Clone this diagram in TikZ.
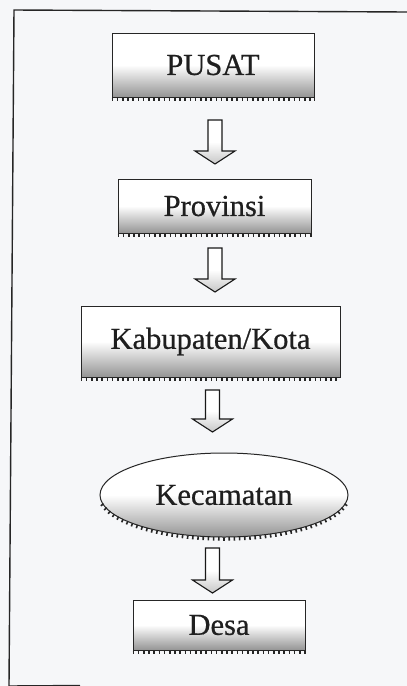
\documentclass[tikz,border=0pt]{standalone}
\usepackage{fontspec}
\setmainfont{Liberation Serif}[FakeBold=0.6]
\usetikzlibrary{calc,shapes.geometric}
\begin{document}
\begin{tikzpicture}[x=1pt,y=-1pt,
  lbl/.style={font=\fontsize{30.5}{36}\selectfont, text=black!88, inner sep=0pt},
  box/.style={lbl, draw=black!85, line width=1pt, rectangle,
    top color=white, bottom color=black!42, middle color=white},
  oval/.style={lbl, draw=black!85, line width=1pt, ellipse,
    top color=white, bottom color=black!42, middle color=white},
  ticks/.style={draw=black!85, line width=3.5pt, dash pattern=on 1.6pt off 3.6pt},
  blockarrow/.style={draw=black!90, line width=1.1pt,
    top color=white, bottom color=black!22, middle color=white,
    to path={let \p1=(\tikztostart),\p2=(\tikztotarget) in
      (\x1-7pt,\y1) -- (\x1+7pt,\y1) -- (\x1+7pt,\y2+13pt) -- (\x1+20pt,\y2+13pt)
      -- (\x2,\y2) -- (\x1-20pt,\y2+13pt) -- (\x1-7pt,\y2+13pt) -- cycle}},
  frame/.style={draw=black!85, line width=1.4pt}]
\path[fill={rgb,255:red,246;green,247;blue,249}] (0,0) rectangle (407,686);
\useasboundingbox (0,0) rectangle (407,686);

% outer frame
\coordinate (ftl) at (14,10);
\coordinate (ftr) at (407,12);
\coordinate (fbl) at (9,686);
\coordinate (fbr) at (80,685.5);
\draw[frame] (ftr) -- (ftl) -- (fbl);
\draw[frame] (fbl) -- (fbr);

% levels
\node[box, minimum width=202, minimum height=64] (pusat) at (213,65) {PUSAT};
\node[box, minimum width=193, minimum height=54] (prov) at (214.5,206) {Provinsi};
\node[box, minimum width=259, minimum height=71] (kab) at (210.5,341.5) {Kabupaten/Kota};
\node[oval, minimum width=248, minimum height=84] (kec) at (224,495) {Kecamatan};
\node[box, minimum width=172, minimum height=50] (desa) at (219,625) {Desa};

% tick rows under the shapes
\foreach \n in {pusat,prov,kab,desa}
  \draw[ticks] ([yshift=-2pt]\n.south west) -- ([yshift=-2pt]\n.south east);
\draw[ticks] ($(kec.center)+(12:125 and 44)$) arc[start angle=12, end angle=168, x radius=125, y radius=44];

% block arrows
\coordinate (a1s) at (215,120);   \coordinate (a1e) at (215,164);
\coordinate (a2s) at (215,248);   \coordinate (a2e) at (215,292);
\coordinate (a3s) at (212.5,390); \coordinate (a3e) at (212.5,432);
\coordinate (a4s) at (212.5,548); \coordinate (a4e) at (212.5,593);
\path[blockarrow] (a1s) to (a1e);
\path[blockarrow] (a2s) to (a2e);
\path[blockarrow] (a3s) to (a3e);
\path[blockarrow] (a4s) to (a4e);
\end{tikzpicture}
\end{document}
